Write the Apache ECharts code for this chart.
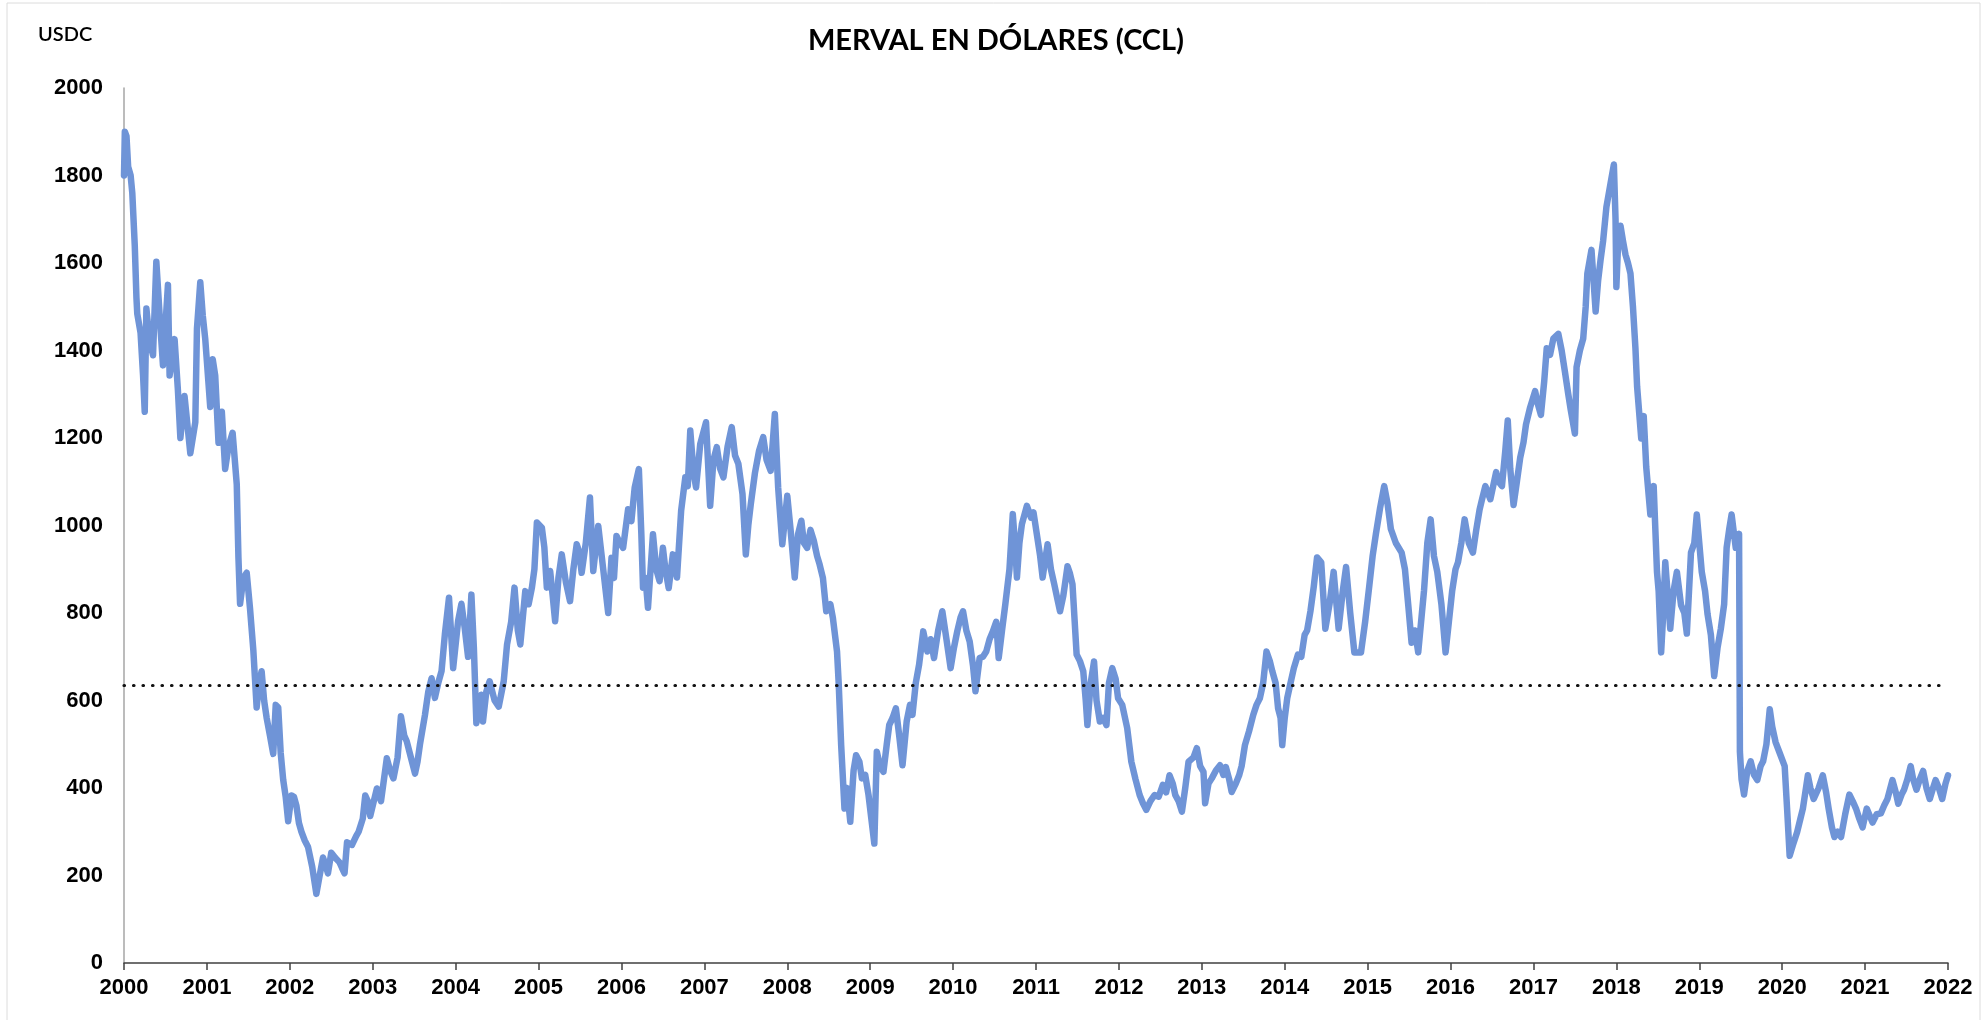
<!DOCTYPE html>
<html>
<head>
<meta charset="utf-8">
<title>MERVAL EN DÓLARES (CCL)</title>
<script src="https://cdn.jsdelivr.net/npm/echarts@6/dist/echarts.min.js"></script>
<style>
  html, body { margin: 0; padding: 0; background: #fff; }
  #chart { width: 1986px; height: 1020px; }
</style>
</head>
<body>
<div id="chart"></div>
<script>
// years elapsed since 2000 (decimal)
var yearOffsets = [
  0.00, 0.01, 0.03, 0.05, 0.08, 0.10, 0.13, 0.15, 0.16, 0.20, 0.23, 0.25, 0.27, 0.31, 0.35, 0.39, 0.43, 0.47, 0.53, 0.55,
  0.61, 0.65, 0.68, 0.73, 0.80, 0.86, 0.88, 0.92, 0.95, 0.98, 1.04, 1.07, 1.10, 1.14, 1.18, 1.22, 1.26, 1.31, 1.36, 1.38,
  1.40, 1.44, 1.48, 1.52, 1.56, 1.60, 1.63, 1.66, 1.69, 1.72, 1.76, 1.80, 1.83, 1.86, 1.89, 1.92, 1.95, 1.98, 2.02, 2.05,
  2.08, 2.11, 2.14, 2.18, 2.22, 2.27, 2.32, 2.36, 2.40, 2.43, 2.46, 2.50, 2.55, 2.60, 2.63, 2.66, 2.69, 2.75, 2.80, 2.83,
  2.88, 2.91, 2.94, 2.97, 3.05, 3.10, 3.17, 3.21, 3.25, 3.30, 3.34, 3.38, 3.41, 3.46, 3.51, 3.54, 3.57, 3.63, 3.67, 3.71,
  3.75, 3.79, 3.83, 3.87, 3.92, 3.97, 4.03, 4.07, 4.11, 4.15, 4.19, 4.22, 4.25, 4.31, 4.33, 4.37, 4.41, 4.47, 4.52, 4.58,
  4.62, 4.67, 4.71, 4.75, 4.78, 4.84, 4.88, 4.92, 4.95, 4.98, 5.04, 5.07, 5.10, 5.14, 5.17, 5.20, 5.24, 5.28, 5.33, 5.38,
  5.42, 5.46, 5.49, 5.52, 5.57, 5.62, 5.66, 5.72, 5.78, 5.84, 5.88, 5.91, 5.94, 5.98, 6.02, 6.08, 6.12, 6.16, 6.21, 6.24,
  6.26, 6.29, 6.32, 6.38, 6.42, 6.46, 6.50, 6.53, 6.57, 6.62, 6.67, 6.72, 6.77, 6.80, 6.83, 6.87, 6.90, 6.95, 7.02, 7.07,
  7.11, 7.15, 7.19, 7.23, 7.28, 7.33, 7.37, 7.41, 7.46, 7.50, 7.53, 7.56, 7.61, 7.66, 7.71, 7.75, 7.80, 7.85, 7.89, 7.94,
  8.00, 8.04, 8.09, 8.13, 8.17, 8.20, 8.24, 8.28, 8.32, 8.36, 8.39, 8.43, 8.47, 8.52, 8.55, 8.60, 8.62, 8.65, 8.69, 8.72,
  8.76, 8.80, 8.83, 8.87, 8.90, 8.94, 8.98, 9.05, 9.08, 9.12, 9.16, 9.20, 9.23, 9.27, 9.31, 9.35, 9.39, 9.44, 9.48, 9.51,
  9.55, 9.59, 9.64, 9.69, 9.73, 9.77, 9.82, 9.87, 9.92, 9.97, 10.01, 10.05, 10.09, 10.12, 10.16, 10.20, 10.24, 10.27, 10.32, 10.36,
  10.40, 10.44, 10.48, 10.52, 10.55, 10.59, 10.63, 10.68, 10.72, 10.75, 10.77, 10.80, 10.83, 10.89, 10.94, 10.97, 11.01, 11.05, 11.08, 11.11,
  11.14, 11.18, 11.22, 11.26, 11.29, 11.33, 11.38, 11.41, 11.44, 11.49, 11.53, 11.57, 11.60, 11.62, 11.66, 11.70, 11.73, 11.77, 11.81, 11.85,
  11.88, 11.92, 11.96, 11.99, 12.04, 12.10, 12.15, 12.20, 12.25, 12.29, 12.33, 12.38, 12.43, 12.48, 12.53, 12.57, 12.61, 12.65, 12.68, 12.72,
  12.76, 12.80, 12.84, 12.90, 12.94, 12.98, 13.02, 13.04, 13.08, 13.12, 13.17, 13.22, 13.26, 13.29, 13.33, 13.36, 13.41, 13.45, 13.48, 13.52,
  13.57, 13.62, 13.66, 13.70, 13.74, 13.78, 13.82, 13.85, 13.89, 13.92, 13.95, 13.97, 14.00, 14.03, 14.07, 14.11, 14.16, 14.20, 14.24, 14.27,
  14.31, 14.35, 14.39, 14.44, 14.49, 14.54, 14.59, 14.65, 14.70, 14.74, 14.79, 14.84, 14.92, 14.97, 15.02, 15.06, 15.10, 15.15, 15.20, 15.24,
  15.28, 15.34, 15.41, 15.45, 15.49, 15.53, 15.57, 15.61, 15.68, 15.72, 15.76, 15.80, 15.84, 15.89, 15.94, 15.98, 16.02, 16.06, 16.09, 16.13,
  16.17, 16.22, 16.27, 16.31, 16.35, 16.38, 16.42, 16.48, 16.55, 16.58, 16.62, 16.66, 16.69, 16.72, 16.76, 16.80, 16.84, 16.88, 16.91, 16.96,
  17.02, 17.05, 17.09, 17.13, 17.16, 17.20, 17.24, 17.30, 17.34, 17.38, 17.42, 17.45, 17.50, 17.52, 17.56, 17.60, 17.63, 17.65, 17.70, 17.75,
  17.78, 17.81, 17.84, 17.88, 17.93, 17.97, 17.99, 18.00, 18.02, 18.05, 18.08, 18.11, 18.14, 18.17, 18.20, 18.23, 18.25, 18.30, 18.33, 18.36,
  18.41, 18.45, 18.49, 18.51, 18.54, 18.56, 18.59, 18.62, 18.65, 18.69, 18.73, 18.78, 18.82, 18.85, 18.90, 18.94, 18.97, 19.00, 19.03, 19.07,
  19.10, 19.14, 19.18, 19.22, 19.26, 19.30, 19.33, 19.36, 19.39, 19.44, 19.48, 19.49, 19.51, 19.54, 19.58, 19.62, 19.66, 19.70, 19.74, 19.77,
  19.81, 19.85, 19.88, 19.92, 19.97, 20.03, 20.06, 20.09, 20.13, 20.18, 20.22, 20.25, 20.31, 20.34, 20.38, 20.44, 20.49, 20.53, 20.56, 20.60,
  20.63, 20.67, 20.71, 20.76, 20.81, 20.85, 20.89, 20.93, 20.97, 21.02, 21.06, 21.09, 21.14, 21.19, 21.23, 21.27, 21.33, 21.37, 21.40, 21.44,
  21.47, 21.51, 21.55, 21.58, 21.62, 21.66, 21.70, 21.74, 21.78, 21.82, 21.85, 21.89, 21.93, 21.97, 22.00
];

// Merval in USD (CCL)
var mervalUsd = [
  1800, 1900, 1890, 1820, 1800, 1760, 1639, 1521, 1484, 1440, 1343, 1260, 1496, 1420, 1389, 1603, 1480, 1366, 1550, 1343,
  1426, 1310, 1200, 1296, 1165, 1236, 1450, 1556, 1480, 1426, 1271, 1380, 1343, 1189, 1260, 1129, 1180, 1212, 1094, 928,
  821, 880, 892, 810, 715, 584, 640, 667, 600, 561, 520, 478, 590, 584, 480, 419, 380, 324, 383, 380,
  359, 320, 300, 280, 265, 220, 158, 200, 241, 225, 205, 252, 240, 230, 217, 205, 276, 270, 290, 300,
  330, 383, 370, 336, 399, 370, 468, 440, 422, 470, 564, 520, 507, 470, 433, 460, 500, 567, 620, 651,
  606, 640, 667, 751, 835, 674, 782, 821, 765, 700, 842, 720, 548, 613, 552, 620, 644, 600, 586, 644,
  728, 780, 858, 760, 728, 850, 820, 858, 900, 1007, 995, 950, 858, 896, 840, 781, 880, 934, 870, 827,
  900, 957, 940, 892, 960, 1064, 896, 999, 900, 800, 926, 880, 976, 960, 949, 1037, 1010, 1087, 1129, 980,
  858, 880, 812, 980, 900, 873, 949, 900, 857, 934, 881, 1034, 1110, 1090, 1217, 1120, 1087, 1186, 1236, 1045,
  1150, 1179, 1130, 1110, 1180, 1225, 1160, 1141, 1072, 934, 1000, 1049, 1120, 1171, 1202, 1150, 1125, 1255, 1087, 957,
  1068, 990, 881, 980, 1011, 960, 949, 990, 965, 930, 911, 880, 804, 820, 789, 712, 640, 498, 353, 400,
  323, 440, 475, 460, 422, 430, 384, 273, 483, 450, 437, 500, 544, 560, 582, 520, 452, 552, 590, 567,
  640, 682, 758, 712, 740, 697, 760, 804, 740, 674, 720, 758, 790, 804, 760, 735, 680, 621, 697, 700,
  712, 740, 758, 780, 697, 760, 820, 900, 1026, 950, 881, 960, 1003, 1045, 1018, 1030, 980, 930, 881, 920,
  957, 900, 866, 830, 804, 840, 907, 890, 866, 705, 690, 667, 600, 544, 640, 689, 600, 552, 560, 544,
  640, 674, 650, 605, 590, 537, 460, 420, 384, 365, 350, 370, 384, 380, 407, 390, 429, 410, 384, 370,
  346, 400, 460, 470, 491, 450, 437, 365, 410, 422, 440, 452, 430, 448, 420, 391, 410, 429, 450, 498,
  530, 567, 590, 605, 640, 712, 690, 667, 640, 582, 560, 498, 560, 605, 640, 674, 705, 700, 750, 760,
  804, 860, 927, 916, 764, 820, 894, 764, 850, 905, 800, 710, 710, 780, 862, 930, 981, 1040, 1090, 1050,
  992, 960, 938, 900, 818, 732, 760, 710, 851, 960, 1014, 930, 894, 820, 710, 780, 851, 900, 916, 960,
  1014, 960, 938, 990, 1036, 1060, 1090, 1060, 1122, 1100, 1090, 1170, 1240, 1130, 1047, 1100, 1155, 1190, 1231, 1270,
  1307, 1280, 1253, 1330, 1405, 1390, 1427, 1438, 1400, 1351, 1300, 1264, 1210, 1362, 1400, 1427, 1500, 1576, 1630, 1489,
  1560, 1608, 1650, 1728, 1782, 1825, 1700, 1545, 1640, 1685, 1650, 1619, 1600, 1576, 1500, 1405, 1318, 1199, 1250, 1134,
  1025, 1090, 894, 850, 710, 780, 916, 840, 764, 850, 894, 818, 800, 753, 938, 960, 1025, 960, 894, 850,
  797, 750, 656, 720, 764, 820, 949, 990, 1025, 949, 981, 483, 420, 385, 440, 461, 430, 418, 450, 461,
  500, 580, 540, 505, 480, 450, 350, 245, 270, 299, 330, 353, 429, 400, 375, 400, 429, 390, 353, 310,
  288, 300, 288, 340, 385, 370, 353, 330, 310, 353, 335, 321, 340, 342, 360, 375, 418, 390, 364, 385,
  396, 420, 450, 420, 396, 420, 439, 400, 375, 400, 418, 400, 375, 410, 429
];

// dotted reference level
var referenceLevel = [635];

var yTicks = { min: 0, max: 2000, step: 200 };
var xTicks = { min: 2000, max: 2022, step: 1 };

var chart = echarts.init(document.getElementById('chart'));

var seriesData = yearOffsets.map(function (t, i) {
  return [xTicks.min + t, mervalUsd[i]];
});

var labelFont = {
  color: '#000',
  fontFamily: 'Liberation Sans, Arial, sans-serif',
  fontWeight: 'bold',
  fontSize: 22
};

chart.setOption({
  animation: false,
  backgroundColor: '#fff',
  graphic: [
    {
      type: 'rect',
      shape: { x: 7, y: 3, width: 1973, height: 1040 },
      style: { fill: 'none', stroke: '#dcdcdc', lineWidth: 1 },
      silent: true
    },
    {
      type: 'text',
      x: 996,
      y: 41,
      style: {
        text: 'MERVAL EN DÓLARES (CCL)',
        fill: '#000',
        font: 'bold 29px Lato, "Noto Sans", sans-serif',
        textAlign: 'center',
        textVerticalAlign: 'middle'
      }
    },
    {
      type: 'text',
      x: 38,
      y: 35,
      style: {
        text: 'USDC',
        fill: '#000',
        font: '600 20px Lato, "Noto Sans", sans-serif',
        textAlign: 'left',
        textVerticalAlign: 'middle'
      }
    }
  ],
  grid: { left: 124, right: 38, top: 88, bottom: 57, containLabel: false },
  xAxis: {
    type: 'value',
    min: xTicks.min,
    max: xTicks.max,
    interval: xTicks.step,
    splitLine: { show: false },
    axisLine: { show: true, lineStyle: { color: '#404040', width: 1.5 } },
    axisTick: { show: true, inside: false, length: 7, lineStyle: { color: '#404040', width: 1.5 } },
    axisLabel: Object.assign({ margin: 14, formatter: function (v) { return String(v); } }, labelFont)
  },
  yAxis: {
    type: 'value',
    min: yTicks.min,
    max: yTicks.max,
    interval: yTicks.step,
    splitLine: { show: false },
    axisLine: { show: true, lineStyle: { color: '#a6a6a6', width: 1.5 } },
    axisTick: { show: false },
    axisLabel: Object.assign({ margin: 21, formatter: function (v) { return String(v); } }, labelFont)
  },
  series: [{
    type: 'line',
    data: seriesData,
    showSymbol: false,
    symbol: 'none',
    sampling: null,
    lineStyle: { color: '#6f94d7', width: 6.5, join: 'round', cap: 'round' },
    markLine: {
      silent: true,
      symbol: ['none', 'none'],
      label: { show: false },
      lineStyle: { color: '#111', width: 3.2, type: [0.5, 9], cap: 'round' },
      data: referenceLevel.map(function (v) { return { yAxis: v }; })
    }
  }]
});
</script>
</body>
</html>
